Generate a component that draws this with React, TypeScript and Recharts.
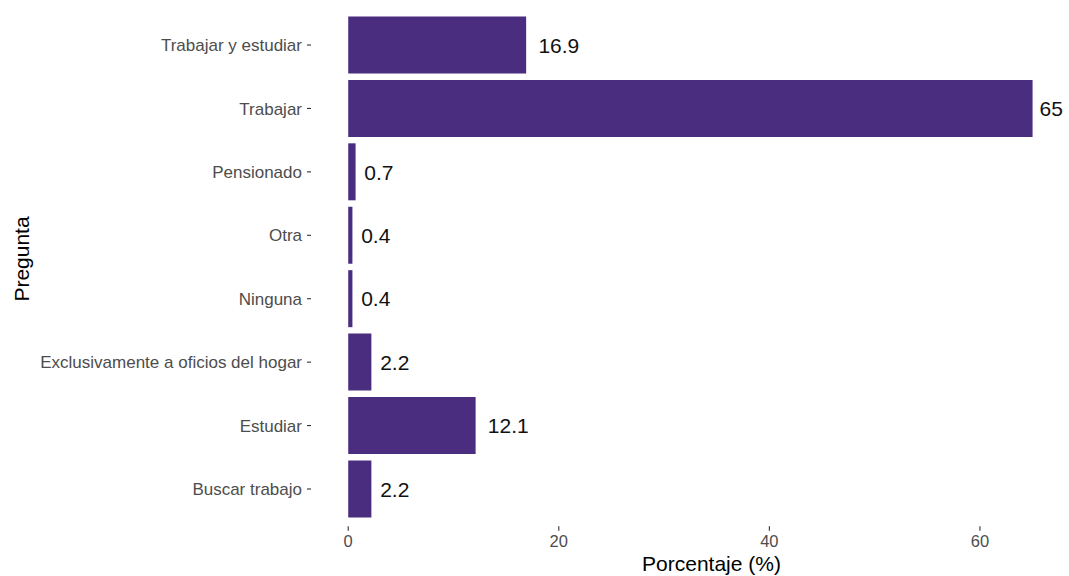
import React from "react";
import { BarChart, Bar, XAxis, YAxis, LabelList } from "recharts";

const categories: string[] = [
  "Trabajar y estudiar",
  "Trabajar",
  "Pensionado",
  "Otra",
  "Ninguna",
  "Exclusivamente a oficios del hogar",
  "Estudiar",
  "Buscar trabajo",
];
const values: number[] = [16.9, 65, 0.7, 0.4, 0.4, 2.2, 12.1, 2.2];
const xTicks: number[] = [0, 20, 40, 60];

const data = categories.map((c, i) => ({ name: c, value: values[i] }));

const FONT = "'Liberation Sans', Arial, Helvetica, sans-serif";
const BAR_COLOR = "#4b2d80";
const TICK_COLOR = "#4d4d4d";
const TICKMARK_COLOR = "#333333";

const YTick = (props: any) => {
  const { x, y, payload } = props;
  return (
    <g>
      <line x1={x - 7} x2={x - 3} y1={y} y2={y} stroke={TICKMARK_COLOR} strokeWidth={1.1} />
      <text
        x={x - 12}
        y={y}
        dy="0.36em"
        textAnchor="end"
        fontFamily={FONT}
        fontSize={17}
        fill={TICK_COLOR}
      >
        {payload.value}
      </text>
    </g>
  );
};

const XTick = (props: any) => {
  const { x, y, payload } = props;
  return (
    <g>
      <line x1={x} x2={x} y1={y + 5.5} y2={y + 10} stroke={TICKMARK_COLOR} strokeWidth={1.1} />
      <text
        x={x}
        y={y + 26.5}
        textAnchor="middle"
        fontFamily={FONT}
        fontSize={16.5}
        fill={TICK_COLOR}
      >
        {payload.value}
      </text>
    </g>
  );
};

const advance = (s: string) => {
  let w = 0;
  for (const ch of s) w += ch === "." ? 0.278 : 0.556;
  return w;
};

const BarLabel = (props: any) => {
  const { x, y, width, height, value } = props;
  const fs = 21;
  const str = String(value);
  const off = 0.3 * advance(str) * fs;
  return (
    <text
      x={x + width + off}
      y={y + height / 2}
      dy="0.37em"
      textAnchor="start"
      fontFamily={FONT}
      fontSize={fs}
      fill="#111111"
    >
      {str}
    </text>
  );
};

export default function App() {
  return (
    <div style={{ position: "absolute", left: 0, top: 0, width: 1069, height: 576, background: "#ffffff" }}>
      <BarChart
        width={1069}
        height={576}
        data={data}
        layout="vertical"
        margin={{ top: 13.3, right: 2.2, left: 0, bottom: 0 }}
        barCategoryGap="5%"
      >
        <XAxis
          type="number"
          domain={[-3.25, 68.25]}
          ticks={xTicks}
          height={55.3}
          axisLine={false}
          tickLine={false}
          tickSize={0}
          tickMargin={0}
          tick={<XTick />}
          interval={0}
        />
        <YAxis
          type="category"
          dataKey="name"
          width={314}
          axisLine={false}
          tickLine={false}
          tickSize={0}
          tickMargin={0}
          tick={<YTick />}
          interval={0}
        />
        <Bar dataKey="value" fill={BAR_COLOR} isAnimationActive={false}>
          <LabelList dataKey="value" content={<BarLabel />} />
        </Bar>
        <text
          x={711.5}
          y={570.5}
          textAnchor="middle"
          fontFamily={FONT}
          fontSize={21}
          fill="#000000"
        >
          Porcentaje (%)
        </text>
        <text
          x={29}
          y={259}
          transform="rotate(-90 29 259)"
          textAnchor="middle"
          fontFamily={FONT}
          fontSize={21}
          fill="#000000"
        >
          Pregunta
        </text>
      </BarChart>
    </div>
  );
}
